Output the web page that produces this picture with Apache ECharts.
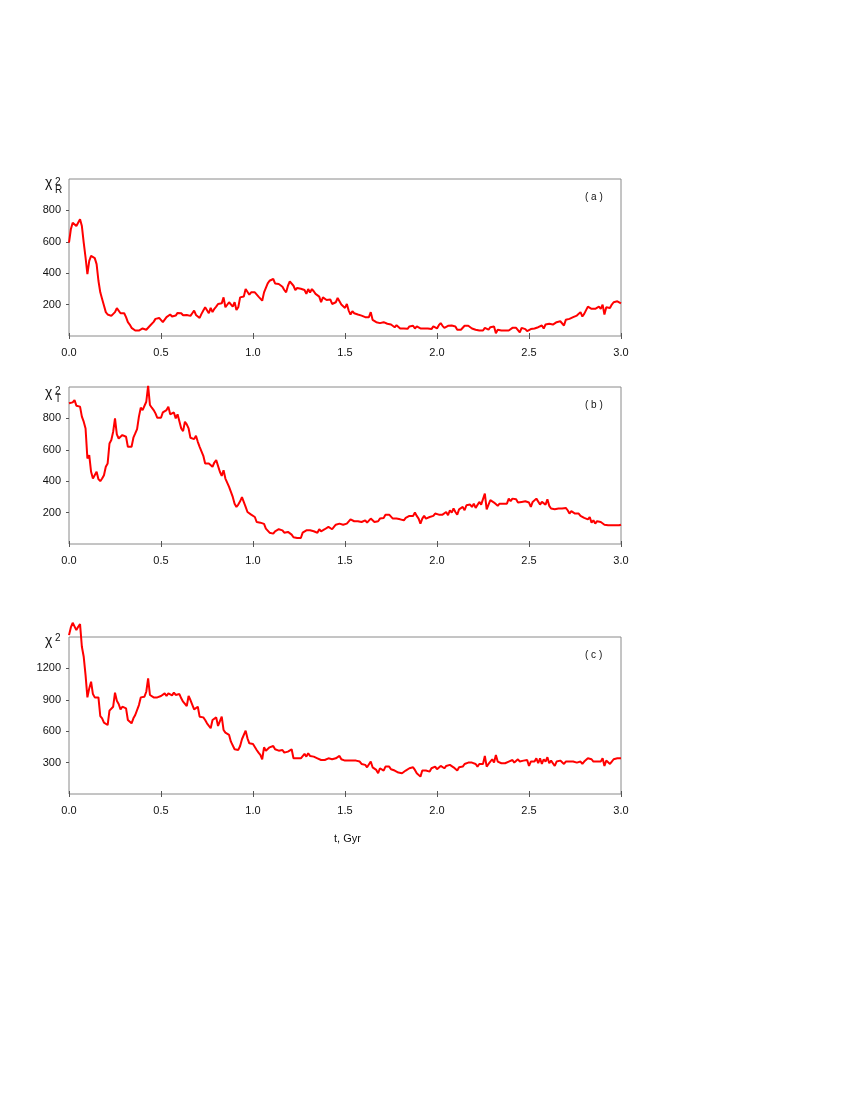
<!DOCTYPE html>
<html>
<head>
<meta charset="utf-8">
<script src="https://cdn.jsdelivr.net/npm/echarts@6/dist/echarts.min.js"></script>
<style>
html, body { margin: 0; padding: 0; background: #fff; }
#chart { width: 850px; height: 1100px; }
</style>
</head>
<body>
<div id="chart"></div>
<script>
// time grid, Gyr
var tStep = 0.01;

// (a) chi^2_R, one value per 0.01 Gyr from 0.00 to 3.00
var chiR = [
  595,680,722,732,700,711,743,700,595,500,
  394,479,510,521,496,458,352,278,236,194,
  152,137,132,128,137,152,177,166,145,137,
  145,120,88,73,52,44,35,31,35,44,
  48,48,40,48,65,73,90,109,120,115,
  103,88,99,120,115,137,124,132,130,147,
  141,145,132,141,134,145,128,145,162,134,
  145,115,141,162,183,173,145,179,152,173,
  187,204,194,208,246,183,179,215,221,187,
  215,166,183,246,257,251,299,293,263,278,
  272,278,278,251,242,225,278,289,335,352,
  356,363,335,342,331,331,314,293,278,320,
  348,352,320,293,306,297,301,289,293,268,
  299,276,299,285,268,272,251,215,246,236,
  229,229,233,204,194,215,242,221,200,194,
  179,204,162,137,158,145,141,137,137,130,
  124,120,109,120,152,103,94,88,94,82,
  73,88,78,78,73,73,67,56,69,61,
  48,56,48,52,46,61,52,65,48,61,
  67,48,44,48,52,48,56,44,61,52,
  48,69,82,65,52,61,65,61,67,56,
  61,40,52,40,48,65,56,65,56,48,
  44,40,35,35,44,35,52,44,40,56,
  48,61,18,40,52,35,35,35,35,35,
  44,52,44,52,56,23,52,61,44,31,
  40,44,40,48,44,56,48,67,48,73,
  67,78,88,73,61,88,82,94,94,67,
  103,99,109,103,120,109,130,120,152,124,
  141,152,187,179,173,173,173,179,187,173,
  200,137,183,194,179,200,215,225,221,215,
  208
];

// (b) chi^2_T
var chiT = [
  896,889,902,917,881,881,875,811,779,736,
  545,566,460,417,417,460,413,400,417,438,
  492,513,640,662,715,800,698,672,662,694,
  694,683,619,609,619,677,704,732,811,868,
  853,853,906,1008,885,868,853,832,804,800,
  804,838,826,853,875,826,826,838,800,826,
  817,736,719,779,762,736,677,672,668,689,
  651,619,619,562,513,506,513,506,492,519,
  534,523,460,434,470,417,421,364,332,300,
  257,236,251,272,298,300,236,204,194,187,
  179,172,140,140,136,145,128,98,87,72,
  81,66,81,87,94,94,87,72,68,77,
  72,60,43,38,38,38,38,72,66,87,
  77,87,81,81,87,72,94,81,87,94,
  98,109,115,94,109,123,119,130,119,123,
  130,130,136,157,151,145,151,145,145,140,
  130,151,136,145,162,157,140,130,145,162,
  151,166,187,194,187,183,162,157,162,157,
  157,162,151,166,172,179,187,179,200,179,
  162,130,162,179,162,151,172,183,179,194,
  194,187,194,187,187,204,183,215,200,226,
  204,187,221,209,236,215,247,236,251,236,
  257,230,226,268,251,247,321,221,251,279,
  289,264,257,243,257,264,257,264,257,289,
  272,289,279,285,264,272,268,268,272,264,
  264,236,268,272,289,279,251,268,264,251,
  285,243,226,230,221,221,226,221,226,221,
  230,215,194,209,200,194,194,194,179,172,
  166,162,157,172,136,151,130,145,136,140,
  145,123,130,119,115,119,109,119,115,119,
  123
];

// (c) chi^2 total
var chiAll = [
  1518,1591,1636,1636,1566,1597,1623,1407,1311,1136,
  923,1009,1073,955,923,914,923,745,723,682,
  669,659,796,787,834,968,891,860,809,834,
  850,818,707,691,675,723,755,771,850,923,
  914,930,977,1105,946,936,923,936,923,923,
  936,923,961,936,961,955,942,968,946,946,
  955,914,882,866,841,936,898,891,809,809,
  834,739,755,732,707,675,669,628,707,723,
  732,650,637,739,612,586,573,564,500,484,
  427,421,421,459,523,532,605,532,484,469,
  478,459,421,395,373,332,446,414,427,446,
  446,459,427,421,414,421,421,395,389,405,
  421,427,341,351,341,341,341,351,383,357,
  389,364,373,357,364,341,357,325,341,325,
  319,341,351,332,332,341,357,364,332,319,
  319,310,319,310,319,310,319,300,310,287,
  278,278,255,262,310,255,236,230,198,246,
  255,224,262,278,262,236,236,224,214,205,
  198,198,205,224,236,246,236,255,230,198,
  214,166,224,205,224,224,214,246,230,262,
  236,255,268,255,246,268,255,278,268,255,
  262,224,255,236,262,287,278,300,294,300,
  294,287,262,287,268,287,364,262,287,294,
  332,300,373,310,294,294,294,294,300,310,
  294,325,300,310,332,310,325,319,332,325,
  268,310,300,310,341,294,341,287,332,310,
  351,294,319,300,268,310,294,319,310,287,
  310,300,310,294,310,325,300,287,310,287,
  310,300,341,325,332,310,325,310,319,310,
  341,268,319,300,287,310,332,341,341,341,
  341
];

var yMax = [1000, 1000, 1500];
var yStep = [200, 200, 300];
var yTicks = [[200, 400, 600, 800], [200, 400, 600, 800], [300, 600, 900, 1200]];
var panelTags = ['( a )', '( b )', '( c )'];

function toPairs(arr) {
  return arr.map(function (v, i) { return [+(i * tStep).toFixed(2), v]; });
}

var font = 'Liberation Sans, Arial, sans-serif';
var frameColor = '#8a8a8a';
var tops = [179, 387, 637];
var panels = [chiR, chiT, chiAll];

var grids = [], xAxes = [], yAxes = [], series = [];
tops.forEach(function (top, k) {
  grids.push({
    left: 69, top: top, width: 552, height: 157,
    show: true, borderColor: frameColor, borderWidth: 1, backgroundColor: 'transparent'
  });
  // bottom axis with labels
  xAxes.push({
    type: 'value', gridIndex: k, min: 0, max: 3, interval: 0.5,
    axisLine: { show: false }, splitLine: { show: false },
    axisTick: { show: true, inside: true, length: 3, lineStyle: { color: '#555' } },
    axisLabel: {
      margin: 11, color: '#111', fontFamily: font, fontSize: 11,
      formatter: function (v) { return v.toFixed(1); }
    }
  });
  // top axis, ticks only
  xAxes.push({
    type: 'value', gridIndex: k, position: 'top', min: 0, max: 3, interval: 0.5,
    axisLine: { show: false }, splitLine: { show: false }, axisLabel: { show: false },
    axisTick: { show: true, inside: true, length: 3, lineStyle: { color: '#555' } }
  });
  yAxes.push({
    type: 'value', gridIndex: k, min: 0, max: yMax[k], interval: yStep[k],
    axisLine: { show: false }, splitLine: { show: false },
    axisTick: { show: true, length: 2, customValues: yTicks[k], lineStyle: { color: '#555' } },
    axisLabel: {
      margin: 8, color: '#111', fontFamily: font, fontSize: 11,
      customValues: yTicks[k],
      formatter: function (v) { return String(v); }
    }
  });
  yAxes.push({
    type: 'value', gridIndex: k, position: 'right', min: 0, max: yMax[k], interval: yStep[k],
    axisLine: { show: false }, splitLine: { show: false }, axisLabel: { show: false },
    axisTick: { show: true, inside: true, length: 3, customValues: yTicks[k], lineStyle: { color: '#555' } }
  });
  series.push({
    type: 'line', xAxisIndex: 2 * k, yAxisIndex: 2 * k,
    data: toPairs(panels[k]),
    showSymbol: false, clip: false, silent: true,
    lineStyle: { color: '#ff0000', width: 2 }
  });
});

// text boxes are placed by their top-left corner
function txt(x, y, s, size) {
  return { type: 'text', x: x, y: y, silent: true,
    style: { text: s, fill: '#111', font: size + 'px ' + font } };
}

var graphics = [
  // (a) chi^2_R
  txt(45, 176, '\u03c7', 14), txt(55, 177, '2', 10), txt(55, 185, 'R', 10),
  // (b) chi^2_T
  txt(45, 386, '\u03c7', 14), txt(55, 386, '2', 10), txt(55, 394, 'T', 10),
  // (c) chi^2
  txt(45, 634, '\u03c7', 14), txt(55, 633, '2', 10),
  // x-axis title
  txt(334, 833, 't, Gyr', 11)
];
tops.forEach(function (top, k) {
  graphics.push(txt(585, top + 13, panelTags[k], 10));
});

var myChart = echarts.init(document.getElementById('chart'), null, { renderer: 'canvas' });
var option = {
  animation: false,
  backgroundColor: '#fff',
  grid: grids,
  xAxis: xAxes,
  yAxis: yAxes,
  series: series,
  graphic: graphics
};
myChart.setOption(option);
</script>
</body>
</html>
